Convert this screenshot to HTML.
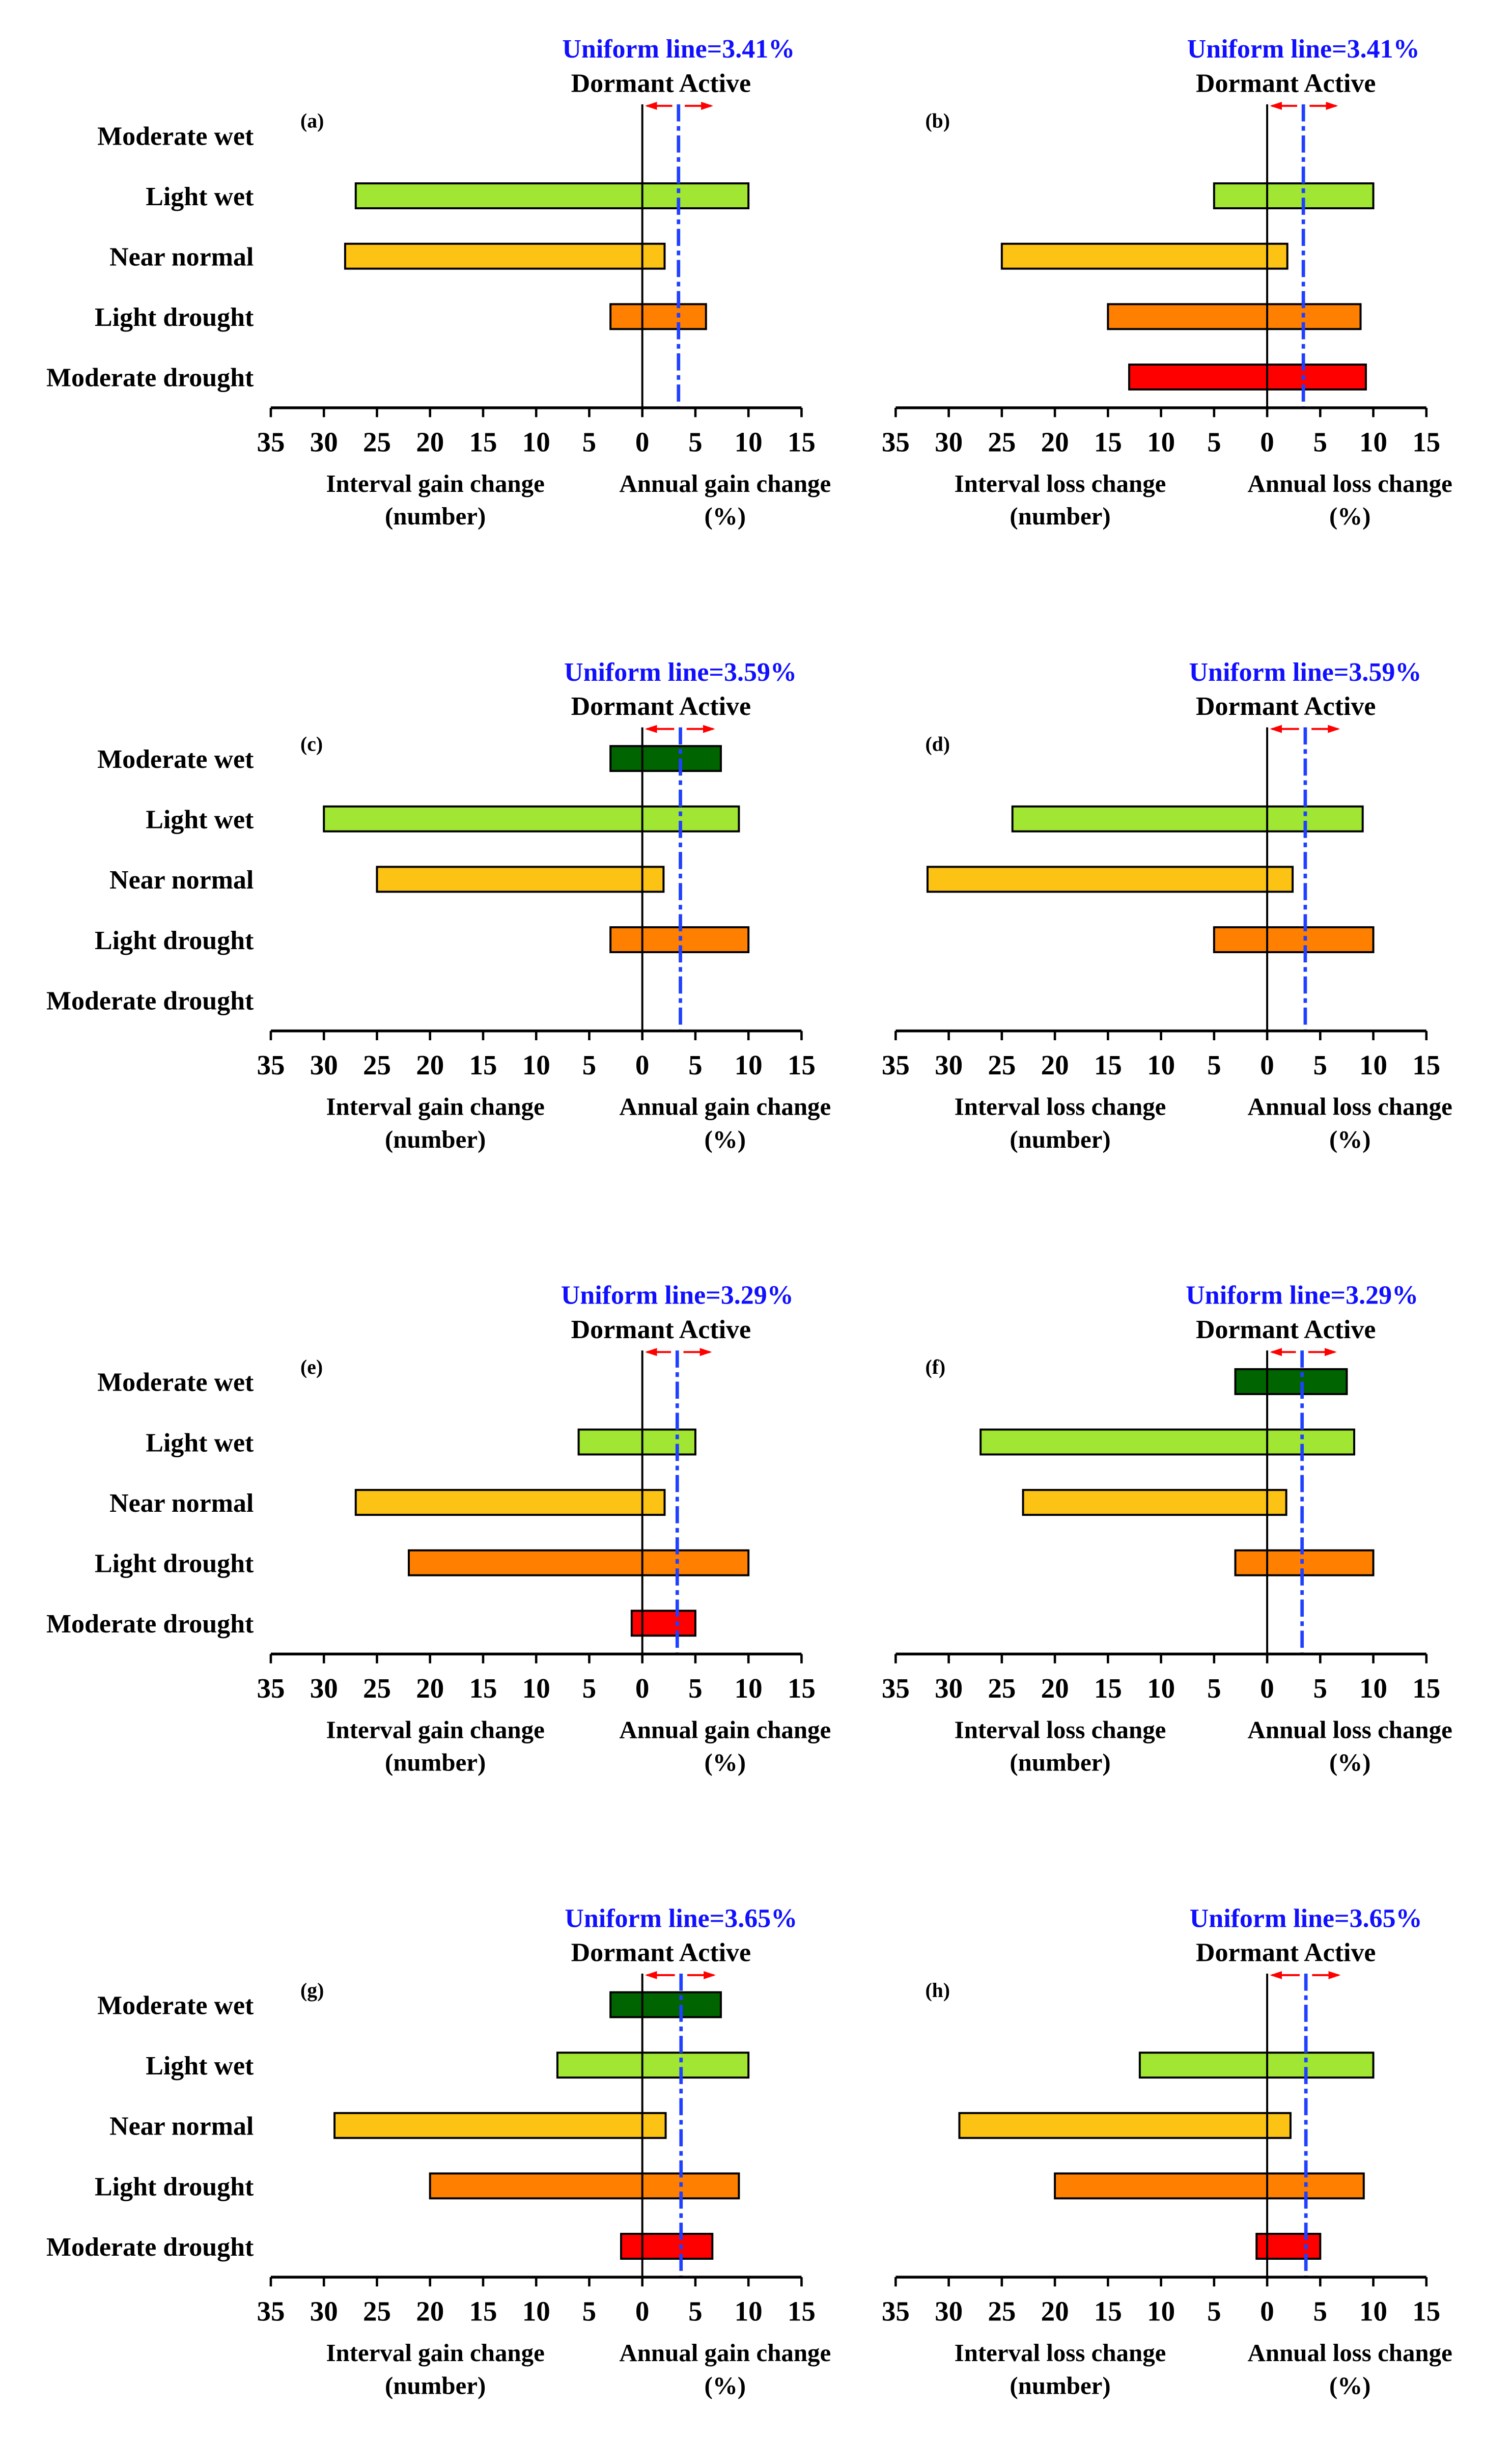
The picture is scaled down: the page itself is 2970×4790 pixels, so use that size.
<!DOCTYPE html>
<html><head><meta charset="utf-8"><style>
html,body{margin:0;padding:0;background:#fff}
svg{display:block}
text{font-family:"Liberation Serif","Times New Roman",serif;font-weight:bold}
</style></head><body>
<svg id="chart" xmlns="http://www.w3.org/2000/svg" width="2970" height="4790" viewBox="0 0 971.5 1566.9"></svg>
<script>
const rowLabels = ["Moderate wet","Light wet","Near normal","Light drought","Moderate drought"];
const rowColors = ["#006400","#a0e632","#fcc315","#ff8000","#ff0000"];
const tickLabels = [35,30,25,20,15,10,5,0,5,10,15];
const panelIds = ["a","b","c","d","e","f","g","h"];
const uniformVals = [3.41,3.41,3.59,3.59,3.29,3.29,3.65,3.65];
const intervalVals = [
 [null,27,28,3,null],
 [null,5,25,15,13],
 [3,30,25,3,null],
 [null,24,32,5,null],
 [null,6,27,22,1],
 [3,27,23,3,null],
 [3,8,29,20,2],
 [null,12,29,20,1]
];
const annualVals = [
 [null,10,2.1,6,null],
 [null,10,1.9,8.8,9.3],
 [7.4,9.1,2,10,null],
 [null,9,2.4,10,null],
 [null,5,2.1,10,5],
 [7.5,8.2,1.8,10,null],
 [7.4,10,2.2,9.1,6.6],
 [null,10,2.2,9.1,5]
];
const kind = ["gain","loss","gain","loss","gain","loss","gain","loss"];

const NS="http://www.w3.org/2000/svg";
const svg=document.getElementById('chart');
function mk(tag,attrs,parent){const e=document.createElementNS(NS,tag);for(const k in attrs)e.setAttribute(k,attrs[k]);(parent||svg).appendChild(e);return e;}
function txt(s,x,y,size,anchor,fill,parent){const t=mk('text',{x:x,y:y,'font-size':size,'text-anchor':anchor,fill:fill||'#000'},parent);t.textContent=s;return t;}

const defs=mk('defs',{});
const mark=mk('marker',{id:'ah',markerWidth:6,markerHeight:4,refX:5,refY:2,orient:'auto',markerUnits:'strokeWidth'},defs);
mk('path',{d:'M0,0 L6,2 L0,4 Z',fill:'#ff0000'},mark);

panelIds.forEach((id,p)=>{
  const col=p%2, row=Math.floor(p/2);
  const x0=174+col*401.5, axisY=262+row*400.3;
  const unit=(515-174)/50;
  const zeroX=x0+35*unit;
  const xs=v=>zeroX+v*unit;
  const g=mk('g',{});
  
  
  const rowY=i=>axisY-175+i*38.8;
  if(col===0){
    rowLabels.forEach((l,i)=>{const t=txt(l,163,rowY(i)+6,17,'end','#000',g);
      });
  }
  const pl=txt('('+id+')',193+col*401.5,axisY-180,13,'start','#000',g);
  
  rowLabels.forEach((l,i)=>{
    const a=intervalVals[p][i], b=annualVals[p][i];
    if(a===null||b===null)return;
    const r=mk('rect',{x:xs(-a),y:rowY(i)-8,width:xs(b)-xs(-a),height:16,fill:rowColors[i],stroke:'#000','stroke-width':1.3},g);
    
    
  });
  const zl=mk('line',{x1:zeroX,y1:axisY-195,x2:zeroX,y2:axisY,stroke:'#000','stroke-width':1.3},g);
  
  const ux=xs(uniformVals[p]);
  const ul=mk('line',{x1:ux,y1:axisY-195,x2:ux,y2:axisY,stroke:'#2040ff','stroke-width':2.2,'stroke-dasharray':'11 3 3 3'},g);
  
  const ay=axisY-194;
  const a1=mk('line',{x1:ux-4,y1:ay,x2:zeroX+3,y2:ay,stroke:'#ff0000','stroke-width':1.3,'marker-end':'url(#ah)'},g);
  
  const a2=mk('line',{x1:ux+4,y1:ay,x2:ux+21,y2:ay,stroke:'#ff0000','stroke-width':1.3,'marker-end':'url(#ah)'},g);
  
  const ut=txt('Uniform line='+uniformVals[p].toFixed(2)+'%',ux,axisY-225,17,'middle','#1010ff',g);
  
  const dt=txt('Dormant  Active',zeroX+12,axisY-203,17,'middle','#000',g);
  
  const ax=mk('line',{x1:x0,y1:axisY,x2:xs(15),y2:axisY,stroke:'#000','stroke-width':1.8},g);
  
  tickLabels.forEach((t,k)=>{
    const v=(k<7?-1:1)*t;
    mk('line',{x1:xs(v),y1:axisY,x2:xs(v),y2:axisY+6,stroke:'#000','stroke-width':1.5},g);
    const tl=txt(String(t),xs(v),axisY+28,18,'middle','#000',g);
    
  });
  const t1=txt('Interval '+kind[p]+' change',xs(-19.5),axisY+54,16,'middle','#000',g);
  
  const t2=txt('(number)',xs(-19.5),axisY+75,16,'middle','#000',g);
  
  const t3=txt('Annual '+kind[p]+' change',xs(7.8),axisY+54,16,'middle','#000',g);
  
  const t4=txt('(%)',xs(7.8),axisY+75,16,'middle','#000',g);
  
});
</script>
</body></html>
